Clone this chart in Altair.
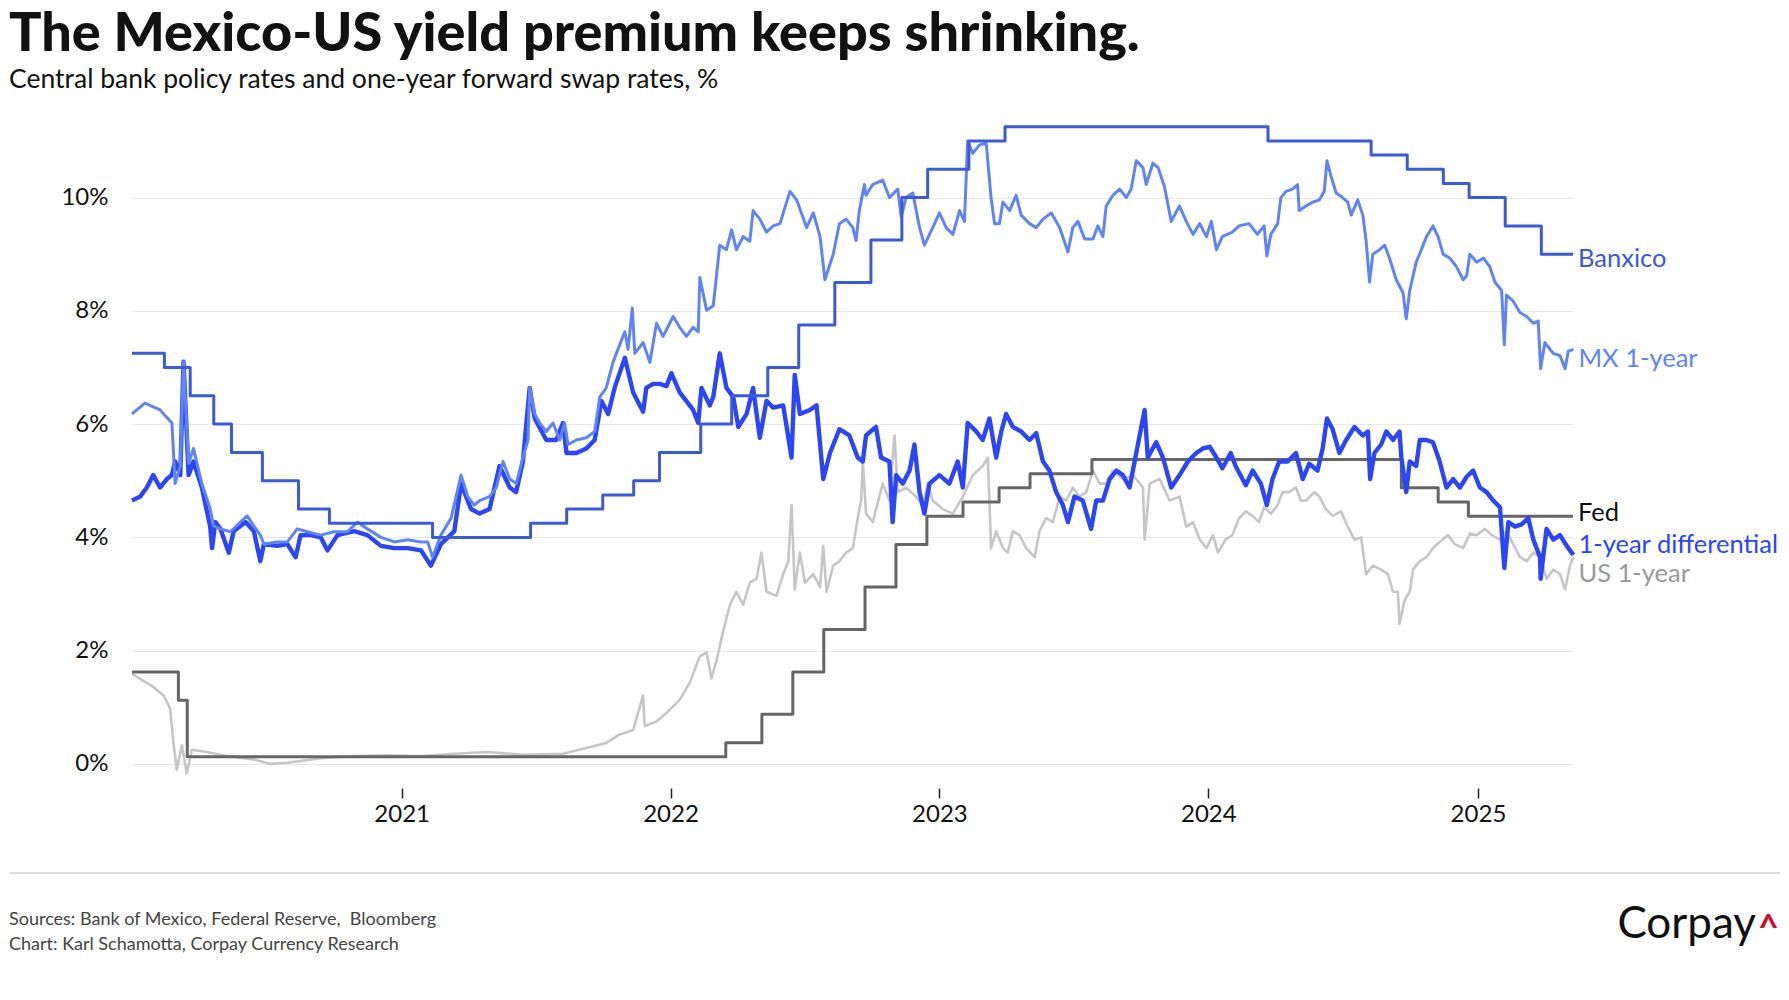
import altair as alt
import pandas as pd

# ---------------- data ----------------
# MX 1-year swap (decimal year, %)
mx_t = [2020.000, 2020.048, 2020.104, 2020.148, 2020.160, 2020.179, 2020.191, 2020.210, 2020.228, 2020.259,
        2020.290, 2020.303, 2020.328, 2020.365, 2020.402, 2020.427, 2020.452, 2020.476, 2020.489, 2020.538,
        2020.576, 2020.613, 2020.650, 2020.700, 2020.749, 2020.799, 2020.836, 2020.873, 2020.923, 2020.973,
        2021.022, 2021.072, 2021.097, 2021.115, 2021.146, 2021.184, 2021.221, 2021.246, 2021.270, 2021.290,
        2021.327, 2021.352, 2021.377, 2021.402, 2021.426, 2021.451, 2021.470, 2021.476, 2021.495, 2021.513,
        2021.538, 2021.563, 2021.588, 2021.606, 2021.619, 2021.650, 2021.687, 2021.718, 2021.737, 2021.761,
        2021.786, 2021.811, 2021.830, 2021.842, 2021.858, 2021.867, 2021.898, 2021.923, 2021.948, 2021.972,
        2022.010, 2022.034, 2022.059, 2022.084, 2022.103, 2022.109, 2022.134, 2022.159, 2022.183, 2022.208,
        2022.227, 2022.245, 2022.270, 2022.295, 2022.307, 2022.332, 2022.357, 2022.382, 2022.407, 2022.444,
        2022.469, 2022.506, 2022.531, 2022.556, 2022.574, 2022.605, 2022.628, 2022.653, 2022.678, 2022.690,
        2022.702, 2022.721, 2022.727, 2022.752, 2022.789, 2022.814, 2022.845, 2022.858, 2022.876, 2022.901,
        2022.926, 2022.944, 2022.975, 2023.000, 2023.025, 2023.050, 2023.075, 2023.093, 2023.105, 2023.124,
        2023.149, 2023.174, 2023.192, 2023.205, 2023.223, 2023.236, 2023.261, 2023.285, 2023.304, 2023.335,
        2023.360, 2023.385, 2023.416, 2023.447, 2023.478, 2023.496, 2023.515, 2023.540, 2023.571, 2023.589,
        2023.608, 2023.620, 2023.645, 2023.670, 2023.695, 2023.713, 2023.732, 2023.757, 2023.769, 2023.794,
        2023.813, 2023.837, 2023.862, 2023.893, 2023.918, 2023.943, 2023.968, 2023.993, 2024.011, 2024.030,
        2024.052, 2024.089, 2024.114, 2024.151, 2024.182, 2024.207, 2024.217, 2024.232, 2024.257, 2024.269,
        2024.288, 2024.312, 2024.331, 2024.337, 2024.362, 2024.387, 2024.412, 2024.430, 2024.440, 2024.455,
        2024.474, 2024.498, 2024.517, 2024.530, 2024.554, 2024.573, 2024.585, 2024.598, 2024.610, 2024.635,
        2024.654, 2024.672, 2024.697, 2024.722, 2024.734, 2024.747, 2024.771, 2024.790, 2024.809, 2024.833,
        2024.852, 2024.871, 2024.896, 2024.920, 2024.945, 2024.958, 2024.970, 2024.995, 2025.020, 2025.044,
        2025.063, 2025.088, 2025.098, 2025.106, 2025.131, 2025.156, 2025.181, 2025.206, 2025.224, 2025.233,
        2025.249, 2025.280, 2025.305, 2025.324, 2025.336, 2025.355]
mx_v = [6.18, 6.37, 6.25, 6.02, 4.95, 5.26, 7.10, 5.30, 5.57, 4.95,
        4.50, 4.20, 4.15, 4.10, 4.27, 4.38, 4.20, 4.04, 3.88, 3.92,
        3.92, 4.15, 4.10, 4.04, 4.10, 4.10, 4.27, 4.15, 4.00, 3.92,
        3.96, 3.92, 3.92, 3.65, 4.04, 4.34, 5.10, 4.72, 4.57, 4.65,
        4.72, 4.88, 5.34, 5.03, 4.95, 5.41, 5.72, 6.64, 6.18, 6.02,
        5.87, 6.02, 5.72, 6.02, 5.64, 5.72, 5.76, 5.87, 6.48, 6.64,
        7.09, 7.40, 7.63, 7.32, 8.05, 7.25, 7.44, 7.09, 7.78, 7.55,
        7.90, 7.71, 7.55, 7.71, 7.63, 8.59, 8.01, 8.09, 9.16, 9.08,
        9.43, 9.08, 9.31, 9.23, 9.77, 9.62, 9.39, 9.50, 9.54, 10.11,
        9.96, 9.47, 9.73, 9.31, 8.55, 9.00, 9.54, 9.62, 9.47, 9.24,
        9.77, 10.23, 10.04, 10.23, 10.31, 10.00, 10.15, 9.66, 10.00, 10.08,
        9.47, 9.16, 9.47, 9.73, 9.47, 9.35, 9.77, 9.58, 11.00, 10.78,
        10.93, 10.96, 10.00, 9.54, 9.54, 9.92, 9.77, 10.04, 9.69, 9.54,
        9.47, 9.62, 9.73, 9.47, 9.04, 9.47, 9.58, 9.27, 9.27, 9.50,
        9.31, 9.85, 10.04, 10.15, 10.00, 10.15, 10.65, 10.53, 10.23, 10.61,
        10.53, 10.19, 9.58, 9.85, 9.58, 9.35, 9.54, 9.31, 9.58, 9.08,
        9.31, 9.39, 9.50, 9.54, 9.35, 9.50, 8.97, 9.35, 9.54, 10.00,
        10.11, 10.15, 10.23, 9.77, 9.85, 9.92, 9.96, 10.11, 10.65, 10.38,
        10.08, 10.00, 9.92, 9.69, 9.96, 9.69, 9.24, 8.51, 9.00, 9.08,
        9.16, 8.93, 8.55, 8.32, 7.86, 8.36, 8.86, 9.08, 9.31, 9.50,
        9.31, 9.00, 8.93, 8.78, 8.55, 8.62, 9.00, 8.86, 8.93, 8.78,
        8.51, 8.36, 7.40, 8.28, 8.17, 7.97, 7.90, 7.78, 7.82, 6.98,
        7.44, 7.25, 7.21, 6.98, 7.29, 7.32]

# US 1-year swap
us_t = [2020.000, 2020.079, 2020.117, 2020.141, 2020.154, 2020.166, 2020.185, 2020.203, 2020.222, 2020.278,
        2020.352, 2020.452, 2020.514, 2020.576, 2020.700, 2020.824, 2020.948, 2021.072, 2021.196, 2021.320,
        2021.450, 2021.600, 2021.761, 2021.811, 2021.861, 2021.898, 2021.904, 2021.948, 2021.985, 2022.034,
        2022.072, 2022.096, 2022.109, 2022.134, 2022.152, 2022.171, 2022.196, 2022.221, 2022.245, 2022.270,
        2022.295, 2022.320, 2022.338, 2022.357, 2022.394, 2022.419, 2022.438, 2022.450, 2022.462, 2022.481,
        2022.500, 2022.531, 2022.556, 2022.568, 2022.580, 2022.605, 2022.628, 2022.653, 2022.678, 2022.696,
        2022.709, 2022.715, 2022.727, 2022.752, 2022.789, 2022.814, 2022.833, 2022.845, 2022.876, 2022.913,
        2022.938, 2022.957, 2022.975, 2023.012, 2023.050, 2023.087, 2023.124, 2023.161, 2023.180, 2023.192,
        2023.211, 2023.236, 2023.254, 2023.273, 2023.298, 2023.323, 2023.354, 2023.372, 2023.397, 2023.422,
        2023.447, 2023.471, 2023.496, 2023.521, 2023.546, 2023.571, 2023.596, 2023.620, 2023.645, 2023.682,
        2023.720, 2023.757, 2023.763, 2023.782, 2023.819, 2023.856, 2023.893, 2023.918, 2023.943, 2023.968,
        2023.993, 2024.017, 2024.036, 2024.064, 2024.089, 2024.114, 2024.139, 2024.164, 2024.188, 2024.207,
        2024.232, 2024.257, 2024.275, 2024.300, 2024.325, 2024.343, 2024.362, 2024.393, 2024.412, 2024.436,
        2024.461, 2024.492, 2024.517, 2024.542, 2024.567, 2024.585, 2024.610, 2024.641, 2024.666, 2024.685,
        2024.703, 2024.709, 2024.728, 2024.747, 2024.759, 2024.784, 2024.809, 2024.833, 2024.858, 2024.889,
        2024.914, 2024.945, 2024.970, 2024.995, 2025.026, 2025.051, 2025.082, 2025.106, 2025.131, 2025.156,
        2025.181, 2025.206, 2025.231, 2025.255, 2025.280, 2025.305, 2025.324, 2025.342, 2025.355]
us_v = [1.59, 1.36, 1.21, 0.98, 0.37, -0.10, 0.33, -0.17, 0.25, 0.21,
        0.14, 0.08, 0.00, 0.02, 0.10, 0.14, 0.15, 0.14, 0.18, 0.21,
        0.16, 0.18, 0.37, 0.52, 0.60, 1.21, 0.67, 0.75, 0.90, 1.13,
        1.44, 1.74, 1.90, 1.97, 1.51, 1.82, 2.35, 2.81, 3.04, 2.81,
        3.20, 3.27, 3.73, 3.04, 2.97, 3.35, 3.58, 4.57, 3.08, 3.73,
        3.20, 3.35, 3.12, 3.85, 3.04, 3.50, 3.58, 3.73, 3.81, 4.34,
        4.65, 5.34, 4.42, 4.27, 4.95, 4.65, 5.80, 4.80, 4.88, 4.72,
        4.57, 4.95, 4.65, 4.50, 4.42, 4.72, 5.10, 5.26, 5.41, 3.81,
        4.11, 3.81, 3.73, 4.11, 4.04, 3.81, 3.65, 4.11, 4.34, 4.27,
        4.72, 4.65, 4.88, 4.72, 4.80, 5.18, 4.95, 4.95, 5.18, 5.03,
        5.10, 4.88, 3.96, 4.95, 5.03, 4.65, 4.72, 4.19, 4.27, 3.96,
        3.81, 4.04, 3.73, 3.96, 4.04, 4.34, 4.46, 4.38, 4.27, 4.53,
        4.42, 4.57, 4.80, 4.80, 4.88, 4.65, 4.65, 4.80, 4.72, 4.50,
        4.38, 4.46, 4.19, 3.96, 4.00, 3.35, 3.50, 3.43, 3.35, 3.04,
        3.04, 2.47, 2.89, 3.04, 3.43, 3.58, 3.65, 3.81, 3.92, 4.04,
        3.88, 3.81, 4.07, 4.04, 4.15, 4.04, 3.96, 4.11, 3.88, 3.65,
        3.58, 3.73, 3.65, 3.27, 3.43, 3.35, 3.08, 3.50, 3.65]

# 1-year differential (MX minus US)
diff_t = [2020.000, 2020.030, 2020.055, 2020.079, 2020.104, 2020.129, 2020.148, 2020.160, 2020.179, 2020.191,
          2020.210, 2020.228, 2020.259, 2020.290, 2020.297, 2020.309, 2020.328, 2020.359, 2020.377, 2020.421,
          2020.452, 2020.476, 2020.489, 2020.538, 2020.576, 2020.607, 2020.625, 2020.663, 2020.700, 2020.725,
          2020.762, 2020.824, 2020.873, 2020.923, 2020.973, 2021.022, 2021.072, 2021.109, 2021.146, 2021.196,
          2021.221, 2021.258, 2021.290, 2021.327, 2021.364, 2021.402, 2021.426, 2021.451, 2021.476, 2021.495,
          2021.538, 2021.575, 2021.600, 2021.613, 2021.650, 2021.687, 2021.718, 2021.743, 2021.768, 2021.792,
          2021.830, 2021.861, 2021.898, 2021.910, 2021.935, 2021.960, 2021.985, 2022.003, 2022.034, 2022.084,
          2022.103, 2022.115, 2022.146, 2022.159, 2022.183, 2022.208, 2022.233, 2022.252, 2022.283, 2022.307,
          2022.332, 2022.357, 2022.382, 2022.419, 2022.450, 2022.462, 2022.481, 2022.518, 2022.543, 2022.568,
          2022.593, 2022.628, 2022.665, 2022.696, 2022.715, 2022.727, 2022.764, 2022.783, 2022.814, 2022.826,
          2022.839, 2022.864, 2022.889, 2022.907, 2022.926, 2022.944, 2022.963, 2023.000, 2023.037, 2023.068,
          2023.087, 2023.105, 2023.137, 2023.161, 2023.186, 2023.211, 2023.230, 2023.248, 2023.273, 2023.304,
          2023.335, 2023.360, 2023.385, 2023.409, 2023.434, 2023.459, 2023.478, 2023.502, 2023.533, 2023.564,
          2023.583, 2023.608, 2023.633, 2023.658, 2023.682, 2023.707, 2023.732, 2023.763, 2023.775, 2023.806,
          2023.831, 2023.862, 2023.893, 2023.924, 2023.955, 2023.980, 2024.005, 2024.030, 2024.052, 2024.083,
          2024.101, 2024.139, 2024.164, 2024.195, 2024.217, 2024.238, 2024.263, 2024.294, 2024.325, 2024.350,
          2024.374, 2024.405, 2024.424, 2024.440, 2024.461, 2024.486, 2024.511, 2024.542, 2024.573, 2024.592,
          2024.600, 2024.616, 2024.641, 2024.660, 2024.685, 2024.709, 2024.716, 2024.734, 2024.747, 2024.771,
          2024.784, 2024.809, 2024.833, 2024.858, 2024.883, 2024.908, 2024.933, 2024.958, 2024.982, 2025.007,
          2025.032, 2025.057, 2025.082, 2025.098, 2025.113, 2025.138, 2025.162, 2025.187, 2025.206, 2025.231,
          2025.233, 2025.255, 2025.280, 2025.305, 2025.330, 2025.355]
diff_v = [4.65, 4.72, 4.88, 5.10, 4.88, 5.03, 5.10, 5.34, 5.10, 7.10,
          5.10, 5.34, 4.88, 4.19, 3.81, 4.27, 4.15, 3.73, 4.11, 4.27,
          4.11, 3.58, 3.88, 3.85, 3.88, 3.65, 4.04, 4.04, 4.00, 3.77,
          4.04, 4.11, 4.04, 3.85, 3.81, 3.81, 3.77, 3.50, 3.88, 4.11,
          4.95, 4.50, 4.42, 4.50, 5.26, 4.88, 4.80, 5.34, 6.64, 6.10,
          5.72, 5.72, 6.02, 5.49, 5.49, 5.57, 5.72, 6.41, 6.18, 6.64,
          7.17, 6.56, 6.22, 6.64, 6.71, 6.71, 6.67, 6.90, 6.56, 6.25,
          6.02, 6.64, 6.33, 6.48, 7.25, 6.64, 6.48, 5.95, 6.18, 6.64,
          5.76, 6.41, 6.29, 6.33, 5.41, 6.87, 6.18, 6.25, 6.33, 5.03,
          5.49, 5.91, 5.80, 5.41, 5.34, 5.80, 5.95, 5.41, 5.34, 4.27,
          5.10, 4.95, 5.18, 5.64, 4.80, 4.42, 4.95, 5.10, 4.95, 5.34,
          4.88, 6.02, 5.87, 5.72, 6.10, 5.41, 5.87, 6.18, 5.95, 5.87,
          5.72, 5.84, 5.34, 5.18, 4.80, 4.57, 4.27, 4.72, 4.65, 4.15,
          4.65, 4.65, 5.03, 5.18, 5.10, 4.88, 5.49, 6.25, 5.41, 5.68,
          5.41, 4.88, 5.10, 5.34, 5.49, 5.57, 5.60, 5.41, 5.22, 5.49,
          5.26, 4.92, 5.18, 4.95, 4.57, 5.03, 5.34, 5.34, 5.49, 5.03,
          5.30, 5.18, 5.57, 6.10, 5.91, 5.49, 5.72, 5.95, 5.80, 5.87,
          5.03, 5.49, 5.64, 5.87, 5.72, 5.87, 5.41, 4.80, 5.34, 5.26,
          5.72, 5.72, 5.68, 5.34, 4.88, 5.03, 4.88, 5.07, 5.18, 4.88,
          4.80, 4.65, 4.53, 3.46, 4.27, 4.19, 4.23, 4.34, 3.96, 3.65,
          3.27, 4.15, 3.96, 4.04, 3.85, 3.69]

# Banxico policy rate (decision effective dates)
banxico_d = ["2020-01-01", "2020-02-14", "2020-03-20", "2020-04-21", "2020-05-15", "2020-06-26",
             "2020-08-14", "2020-09-25", "2021-02-12", "2021-06-25", "2021-08-13", "2021-10-01",
             "2021-11-12", "2021-12-17", "2022-02-11", "2022-03-25", "2022-05-13", "2022-06-24",
             "2022-08-12", "2022-09-30", "2022-11-11", "2022-12-16", "2023-02-10", "2023-03-31",
             "2024-03-22", "2024-08-09", "2024-09-27", "2024-11-15", "2024-12-20", "2025-02-07",
             "2025-03-28", "2025-05-10"]
banxico_v = [7.25, 7.00, 6.50, 6.00, 5.50, 5.00, 4.50, 4.25, 4.00, 4.25, 4.50, 4.75,
             5.00, 5.50, 6.00, 6.50, 7.00, 7.75, 8.50, 9.25, 10.00, 10.50, 11.00, 11.25,
             11.00, 10.75, 10.50, 10.25, 10.00, 9.50, 9.00, 9.00]

# Fed funds (mid-point of target range)
fed_d = ["2020-01-01", "2020-03-04", "2020-03-16", "2022-03-17", "2022-05-05", "2022-06-16",
         "2022-07-28", "2022-09-22", "2022-11-03", "2022-12-15", "2023-02-02", "2023-03-23",
         "2023-05-04", "2023-07-27", "2024-09-19", "2024-11-08", "2024-12-19", "2025-05-10"]
fed_v = [1.625, 1.125, 0.125, 0.375, 0.875, 1.625, 2.375, 3.125, 3.875, 4.375, 4.625, 4.875,
         5.125, 5.375, 4.875, 4.625, 4.375, 4.375]

year_ticks = [2021, 2022, 2023, 2024, 2025]
y_ticks = [0, 2, 4, 6, 8, 10]

TITLE = "The Mexico-US yield premium keeps shrinking."
SUBTITLE = "Central bank policy rates and one-year forward swap rates, %"
SOURCE1 = "Sources: Bank of Mexico, Federal Reserve, \u00a0Bloomberg"
SOURCE2 = "Chart: Karl Schamotta, Corpay Currency Research"


def dec_to_date(y):
    yr = int(y)
    start = pd.Timestamp(year=yr, month=1, day=1)
    ndays = (pd.Timestamp(year=yr + 1, month=1, day=1) - start).days
    return start + pd.Timedelta(days=(y - yr) * ndays)


def frame_dec(ts, vs):
    return pd.DataFrame({"date": [dec_to_date(t).strftime("%Y-%m-%dT%H:%M") for t in ts], "value": vs})


def frame_str(ds, vs):
    return pd.DataFrame({"date": ds, "value": vs})


mx_df = frame_dec(mx_t, mx_v)
us_df = frame_dec(us_t, us_v)
diff_df = frame_dec(diff_t, diff_v)
bx_df = frame_str(banxico_d, banxico_v)
fed_df = frame_str(fed_d, fed_v)

FONT = "Lato"
W, H = 1441, 666

xscale = alt.Scale(domain=[alt.DateTime(year=2020, month=1, date=1),
                           alt.DateTime(year=2025, month=5, date=10)])
yscale = alt.Scale(domain=[-0.39, 11.37], nice=False, zero=False)

xaxis = alt.Axis(values=[alt.DateTime(year=y, month=1, date=1) for y in year_ticks], format="%Y",
                 grid=False, domain=False, tickColor="#222222", tickSize=10, tickWidth=1.5,
                 offset=2, labelPadding=4, labelFontSize=24, labelColor="#111111", labelFont=FONT,
                 title=None)
yaxis = alt.Axis(values=y_ticks, labelExpr="datum.value + '%'", grid=True, gridColor="#e9e9e9",
                 gridWidth=1, domain=False, ticks=False, labelPadding=24, labelFontSize=24,
                 labelColor="#111111", labelFont=FONT, title=None)


def line(df, color, width, interp="linear", axes=False):
    if axes:
        xe = alt.X("date:T", scale=xscale, axis=xaxis)
        ye = alt.Y("value:Q", scale=yscale, axis=yaxis)
    else:
        xe = alt.X("date:T", scale=xscale)
        ye = alt.Y("value:Q", scale=yscale)
    return alt.Chart(df).mark_line(color=color, strokeWidth=width, interpolate=interp,
                                   strokeJoin="round").encode(x=xe, y=ye)


C_BX, C_MX, C_DIFF, C_US, C_FED = "#3b5bd6", "#5f84f4", "#2a46f6", "#c6c6c6", "#666666"

us_line = line(us_df, C_US, 2.6, axes=True)
fed_line = line(fed_df, C_FED, 3.0, "step-after")
diff_line = line(diff_df, C_DIFF, 4.4)
mx_line = line(mx_df, C_MX, 3.0)
bx_line = line(bx_df, C_BX, 3.0, "step-after")


def end_label(df, text, color, dy):
    last = df.tail(1).assign(label=text)
    return alt.Chart(last).mark_text(align="left", baseline="middle", dx=5, dy=dy, fontSize=25.5,
                                     font=FONT, color=color).encode(
        x=alt.X("date:T", scale=xscale), y=alt.Y("value:Q", scale=yscale), text="label:N")


labels = [
    end_label(bx_df, "Banxico", "#3a5ad8", 5),
    end_label(mx_df, "MX 1-year", "#5f84f4", 10),
    end_label(fed_df, "Fed", "#111111", -3),
    end_label(diff_df, "1-year differential", "#2a46f6", -10),
    end_label(us_df, "US 1-year", "#9a9a9a", 17),
]

one = pd.DataFrame({"k": [0]})


def txt(s, x, y, size, weight="normal", color="#111111", align="left", baseline="alphabetic"):
    return alt.Chart(one).mark_text(text=s, align=align, baseline=baseline, fontSize=size,
                                    fontWeight=weight, font=FONT, color=color).encode(
        x=alt.value(x), y=alt.value(y))


title = txt(TITLE, -123, -69, 54, weight=900, color="#111111")
subtitle = txt(SUBTITLE, -123, -32, 26.5, color="#111111")
sep = alt.Chart(one).mark_rule(color="#dddddd", strokeWidth=2).encode(
    x=alt.value(-123), x2=alt.value(1648), y=alt.value(753))
src1 = txt(SOURCE1, -123, 800, 18, color="#444444", baseline="middle")
src2 = txt(SOURCE2, -123, 825, 18, color="#444444", baseline="middle")
logo = txt("Corpay", 1624, 818, 44, color="#111111", align="right")
caret = txt("^", 1626, 820, 36, weight="bold", color="#c8102e")

chart = alt.layer(
    us_line, fed_line, diff_line, mx_line, bx_line, *labels,
    title, subtitle, sep, src1, src2, logo, caret
).properties(
    width=W, height=H,
    padding={"left": 124, "top": 112, "right": 208, "bottom": 190},
    autosize=alt.AutoSizeParams(type="none"),
    background="white",
).configure_view(stroke=None)

chart.save("out.html", embed_options={"renderer": "svg", "actions": False})
